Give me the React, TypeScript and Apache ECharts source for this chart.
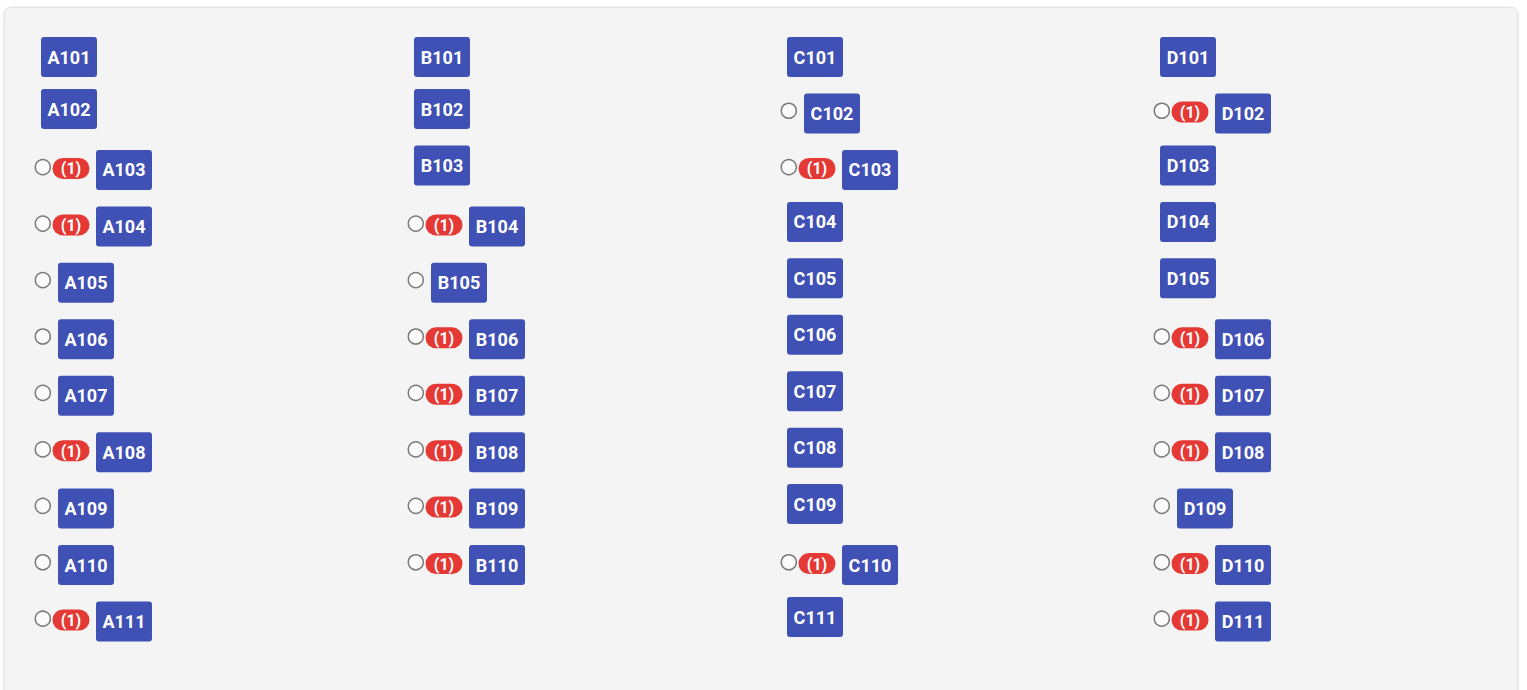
import React, { useEffect, useRef } from "react";
import * as echarts from "echarts";

// Room names per block (column)
const roomsA = ["A101", "A102", "A103", "A104", "A105", "A106", "A107", "A108", "A109", "A110", "A111"];
const roomsB = ["B101", "B102", "B103", "B104", "B105", "B106", "B107", "B108", "B109", "B110"];
const roomsC = ["C101", "C102", "C103", "C104", "C105", "C106", "C107", "C108", "C109", "C110", "C111"];
const roomsD = ["D101", "D102", "D103", "D104", "D105", "D106", "D107", "D108", "D109", "D110", "D111"];

// Status per room: 0 = plain, 1 = selectable (radio), 2 = selectable with alert badge
const statusA = [0, 0, 2, 2, 1, 1, 1, 2, 1, 1, 2];
const statusB = [0, 0, 0, 2, 1, 2, 2, 2, 2, 2];
const statusC = [0, 1, 2, 0, 0, 0, 0, 0, 0, 2, 0];
const statusD = [0, 2, 0, 0, 0, 2, 2, 2, 1, 2, 2];

// Alert counts shown in badges
const countA = [0, 0, 1, 1, 0, 0, 0, 1, 0, 0, 1];
const countB = [0, 0, 0, 1, 0, 1, 1, 1, 1, 1];
const countC = [0, 0, 1, 0, 0, 0, 0, 0, 0, 1, 0];
const countD = [0, 1, 0, 0, 0, 1, 1, 1, 0, 1, 1];

const blocks = [
  { rooms: roomsA, status: statusA, count: countA },
  { rooms: roomsB, status: statusB, count: countB },
  { rooms: roomsC, status: statusC, count: countC },
  { rooms: roomsD, status: statusD, count: countD },
];

type Item = { name: string; col: number; row: number; kind: number; count: number };
const items: Item[] = [];
blocks.forEach((b, col) => {
  b.rooms.forEach((name, row) => {
    items.push({ name, col, row, kind: b.status[row], count: b.count[row] });
  });
});

const LABEL_BG = "#3f51b5";
const BADGE_BG = "#e53935";
const FONT = "Roboto, 'Noto Sans', sans-serif";

export default function App() {
  const ref = useRef<HTMLDivElement>(null);
  useEffect(() => {
    if (!ref.current) return;
    const chart = echarts.init(ref.current, undefined, { renderer: "svg" });
    chart.setOption({
      animation: false,
      backgroundColor: "#ffffff",
      graphic: [
        {
          type: "rect",
          z: 0,
          shape: { x: 4.5, y: 7.5, width: 1513, height: 720, r: 6 },
          style: {
            fill: "#f4f4f4",
            stroke: "#e2e2e2",
            lineWidth: 1,
            shadowBlur: 4,
            shadowColor: "rgba(0,0,0,0.10)",
            shadowOffsetY: 1,
          },
        },
      ],
      grid: { left: 41, right: 367, top: 52.6, bottom: 73, containLabel: false },
      xAxis: { type: "value", min: 0, max: 3, show: false },
      yAxis: { type: "value", min: 0, max: 10, inverse: true, show: false },
      series: [
        {
          type: "custom",
          z: 5,
          data: items.map((it) => ({ name: it.name, value: [it.col, it.row, it.kind, it.count] })),
          renderItem: (params: any, api: any) => {
            const it = items[params.dataIndex];
            const p = api.coord([api.value(0), api.value(1)]);
            const kind = api.value(2);
            const count = api.value(3);
            const px = p[0];
            const cy = p[1] + (kind > 0 ? 4.5 : 0) + (it.row === 0 ? 4.4 : 0);
            const children: any[] = [];
            let lx = px;
            if (kind === 1) lx = px + 17;
            if (kind === 2) lx = px + 55;
            if (kind === 2) {
              children.push({
                type: "rect",
                shape: { x: px + 11.5, y: cy - 1.5 - 10.5, width: 37, height: 21, r: 10.5 },
                style: { fill: BADGE_BG },
              });
              children.push({
                type: "text",
                style: {
                  text: "(" + count + ")",
                  x: px + 11.5 + 18.5,
                  y: cy - 1,
                  align: "center",
                  verticalAlign: "middle",
                  fill: "#ffffff",
                  font: "bold 16px " + FONT,
                },
              });
            }
            if (kind > 0) {
              children.push({
                type: "circle",
                shape: { cx: px + 1.8, cy: cy - 2.8, r: 7.5 },
                style: { fill: "#fbfbfb", stroke: "#7a7a7a", lineWidth: 1.5 },
              });
            }
            children.push({
              type: "rect",
              shape: { x: lx, y: cy - 20, width: 56, height: 40, r: 3 },
              style: { fill: LABEL_BG },
            });
            children.push({
              type: "text",
              style: {
                text: it.name,
                x: lx + 28,
                y: cy,
                align: "center",
                verticalAlign: "middle",
                fill: "#ffffff",
                font: "bold 18px " + FONT,
              },
            });
            return { type: "group", children };
          },
        },
      ],
    });
    return () => chart.dispose();
  }, []);
  return (
    <div
      ref={ref}
      style={{ position: "fixed", left: 0, top: 0, width: 1527, height: 690 }}
    />
  );
}
